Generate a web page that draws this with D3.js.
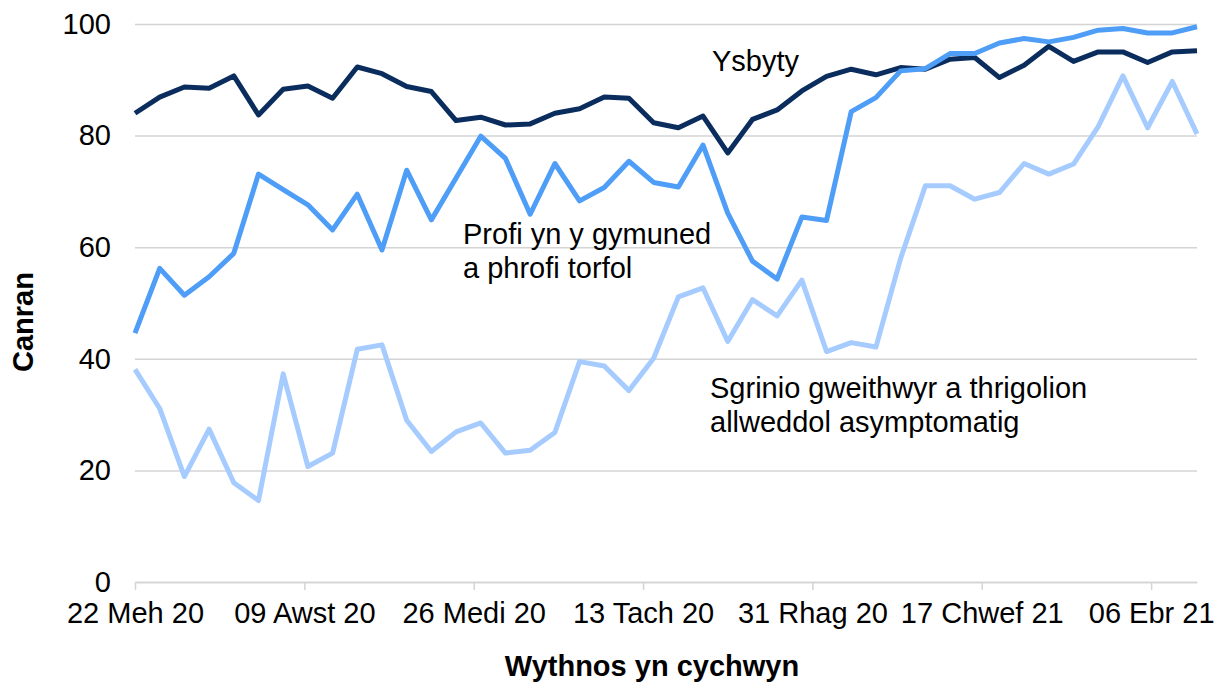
<!DOCTYPE html>
<html>
<head>
<meta charset="utf-8">
<script src="https://cdn.jsdelivr.net/npm/d3@7"></script>
<style>
  body { margin: 0; background: #fff; }
  text { font-family: "Liberation Sans", Arial, sans-serif; fill: #000; }
</style>
</head>
<body>
<div id="canvas"></div>
<script>
// week starting dates
const weeks = [
  "2020-06-22","2020-06-29","2020-07-06","2020-07-13","2020-07-20","2020-07-27",
  "2020-08-03","2020-08-10","2020-08-17","2020-08-24","2020-08-31","2020-09-07",
  "2020-09-14","2020-09-21","2020-09-28","2020-10-05","2020-10-12","2020-10-19",
  "2020-10-26","2020-11-02","2020-11-09","2020-11-16","2020-11-23","2020-11-30",
  "2020-12-07","2020-12-14","2020-12-21","2020-12-28","2021-01-04","2021-01-11",
  "2021-01-18","2021-01-25","2021-02-01","2021-02-08","2021-02-15","2021-02-22",
  "2021-03-01","2021-03-08","2021-03-15","2021-03-22","2021-03-29","2021-04-05",
  "2021-04-12","2021-04-19"
];

const ysbyty = [84.0, 86.9, 88.7, 88.5, 90.7, 83.7, 88.3, 88.9, 86.7, 92.3, 91.1, 88.8,
  87.9, 82.7, 83.3, 81.9, 82.1, 84.0, 84.8, 86.9, 86.7, 82.3, 81.4, 83.5, 76.9, 82.9,
  84.6, 88.0, 90.6, 91.9, 90.9, 92.2, 91.9, 93.7, 94.0, 90.4, 92.6, 96.0, 93.3, 95.0,
  95.0, 93.1, 95.0, 95.2];

const cymuned = [44.6, 56.2, 51.4, 54.7, 58.9, 73.1, 70.3, 67.6, 63.1, 69.5, 59.5, 73.8,
  64.9, 72.4, 79.9, 75.9, 65.9, 75.0, 68.3, 70.7, 75.4, 71.6, 70.8, 78.3, 66.1, 57.5,
  54.3, 65.4, 64.8, 84.3, 86.8, 91.6, 92.0, 94.7, 94.7, 96.6, 97.4, 96.8, 97.6, 98.9,
  99.2, 98.4, 98.4, 99.5];

const sgrinio = [38.1, 31.1, 18.9, 27.4, 17.8, 14.6, 37.3, 20.7, 23.1, 41.7, 42.5, 29.0,
  23.4, 26.9, 28.5, 23.1, 23.6, 26.8, 39.5, 38.7, 34.3, 40.1, 51.1, 52.7, 43.1, 50.6,
  47.7, 54.1, 41.3, 42.9, 42.1, 58.0, 71.0, 71.0, 68.6, 69.8, 75.0, 73.1, 74.9, 81.6,
  90.7, 81.4, 89.7, 80.3];

const tickDates = ["2020-06-22","2020-08-09","2020-09-26","2020-11-13","2020-12-31","2021-02-17","2021-04-06"];
const tickLabels = ["22 Meh 20","09 Awst 20","26 Medi 20","13 Tach 20","31 Rhag 20","17 Chwef 21","06 Ebr 21"];
const yTicks = [0, 20, 40, 60, 80, 100];

const width = 1223, height = 686;
const margin = { top: 24, left: 135, bottom: 104, right: 26 };
const iwidth = width - margin.left - margin.right;
const iheight = height - margin.top - margin.bottom;

const parse = d3.utcParse("%Y-%m-%d");
const dates = weeks.map(parse);

const x = d3.scaleUtc()
  .domain([dates[0], dates[dates.length - 1]])
  .range([0, iwidth]);

const y = d3.scaleLinear()
  .domain([0, 100])
  .range([iheight, 0]);

const svg = d3.select("#canvas").append("svg")
  .attr("width", width)
  .attr("height", height);

const g = svg.append("g").attr("transform", `translate(${margin.left},${margin.top})`);

// gridlines + y labels
const yAxis = g.append("g")
  .call(d3.axisLeft(y).tickValues(yTicks).tickSize(-iwidth).tickPadding(24));
yAxis.select(".domain").remove();
yAxis.selectAll(".tick line").attr("stroke", "#d4d4d4").attr("stroke-width", 1.5);
yAxis.selectAll(".tick text")
  .style("font-size", "29px")
  .style("font-family", "'Liberation Sans', Arial, sans-serif")
  .attr("fill", "#000");

// x axis
const xAxis = g.append("g")
  .attr("transform", `translate(0,${iheight})`)
  .call(d3.axisBottom(x)
    .tickValues(tickDates.map(parse))
    .tickFormat((d, i) => tickLabels[i])
    .tickSize(8).tickSizeOuter(0).tickPadding(12));
xAxis.select(".domain").attr("stroke", "#d4d4d4").attr("stroke-width", 1.5);
xAxis.selectAll(".tick line").attr("stroke", "#d4d4d4").attr("stroke-width", 1.5);
xAxis.selectAll(".tick text")
  .style("font-size", "29px")
  .style("font-family", "'Liberation Sans', Arial, sans-serif")
  .attr("fill", "#000");

const line = d3.line()
  .x((d, i) => x(dates[i]))
  .y(d => y(d));

const series = [
  { name: "ysbyty", values: ysbyty, color: "#0a2d5e" },
  { name: "cymuned", values: cymuned, color: "#4e9df7" },
  { name: "sgrinio", values: sgrinio, color: "#a6cbff" }
];

g.selectAll("path.serie").data(series).enter().append("path")
  .attr("class", "serie")
  .attr("fill", "none")
  .attr("stroke", d => d.color)
  .attr("stroke-width", 5)
  .attr("stroke-linejoin", "round")
  .attr("d", d => line(d.values));

// labels on lines
const notes = [
  { lines: ["Ysbyty"], x: 712, y: 71 },
  { lines: ["Profi yn y gymuned", "a phrofi torfol"], x: 463, y: 244 },
  { lines: ["Sgrinio gweithwyr a thrigolion", "allweddol asymptomatig"], x: 710, y: 398 }
];
notes.forEach(n => {
  n.lines.forEach((t, i) => {
    svg.append("text")
      .attr("x", n.x)
      .attr("y", n.y + i * 34)
      .style("font-size", "29px")
      .text(t);
  });
});

// axis titles
svg.append("text")
  .attr("transform", "translate(33,322) rotate(-90)")
  .attr("text-anchor", "middle")
  .style("font-size", "29px")
  .style("font-weight", "bold")
  .text("Canran");

svg.append("text")
  .attr("x", 652)
  .attr("y", 676)
  .attr("text-anchor", "middle")
  .style("font-size", "29px")
  .style("font-weight", "bold")
  .text("Wythnos yn cychwyn");
</script>
</body>
</html>
